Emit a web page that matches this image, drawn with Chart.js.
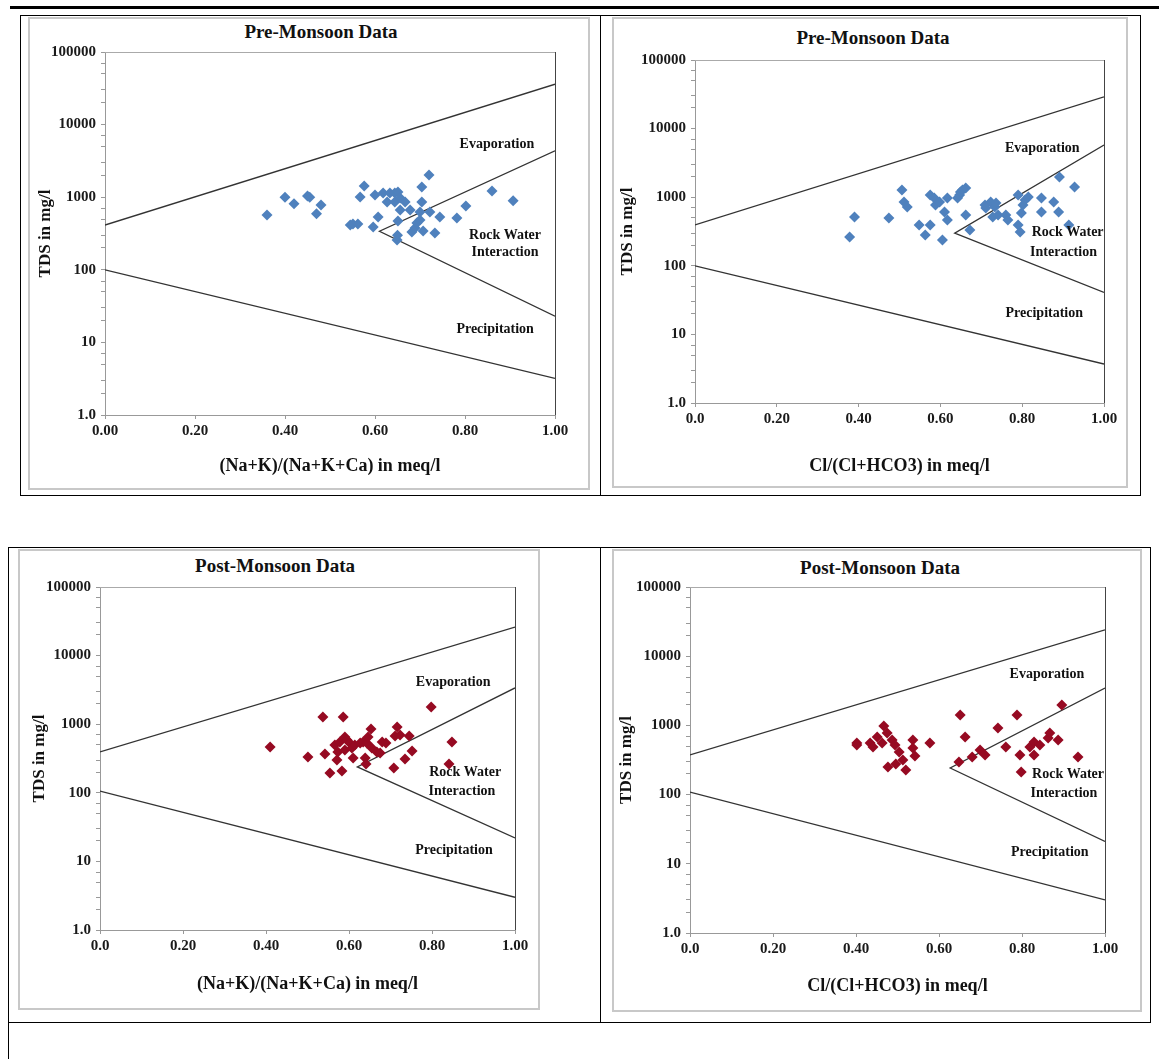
<!DOCTYPE html>
<html>
<head>
<meta charset="utf-8">
<script src="https://cdn.jsdelivr.net/npm/chart.js@4.4.0/dist/chart.umd.min.js"></script>
<style>
  body { margin: 0; background: #fff; width: 1159px; height: 1059px; position: relative; overflow: hidden; }
  .rule { position: absolute; background: #000; }
  .cell { position: absolute; border: 1px solid #000; box-sizing: border-box; }
  .panel { position: absolute; border: 2px solid #c8c8c8; box-sizing: border-box; }
  canvas { position: absolute; }
  .ptitle { position: absolute; transform: translate(-50%, -50%); white-space: nowrap;
            font: bold 19px "Liberation Serif", serif; color: #111; }
</style>
</head>
<body>
<div class="rule" style="left:10px;top:6px;width:1149px;height:3px"></div>
<div class="cell" style="left:20px;top:15px;width:1121px;height:481px"></div>
<div class="rule" style="left:600px;top:15px;width:1px;height:481px"></div>
<div class="cell" style="left:8px;top:547px;width:1143px;height:476px"></div>
<div class="rule" style="left:600px;top:547px;width:1px;height:476px"></div>
<div class="rule" style="left:8px;top:1022px;width:1px;height:37px"></div>

<script>
// ---- data ----
const xTicks = [0, 0.2, 0.4, 0.6, 0.8, 1.0];
const xTickLabelsA = ["0.00", "0.20", "0.40", "0.60", "0.80", "1.00"];
const xTickLabelsB = ["0.0", "0.20", "0.40", "0.60", "0.80", "1.00"];
const yTicks = [1, 10, 100, 1000, 10000, 100000];
const yTickLabels = ["1.0", "10", "100", "1000", "10000", "100000"];
const regionNames = ["Evaporation", "Rock Water", "Interaction", "Precipitation"];

// Pre-monsoon, (Na+K)/(Na+K+Ca)
const preNaRatio = [0.36, 0.40, 0.42, 0.45, 0.455, 0.47, 0.48, 0.545, 0.551, 0.562, 0.567, 0.576, 0.596,
  0.60, 0.607, 0.618, 0.627, 0.633, 0.644, 0.644, 0.649, 0.65, 0.651, 0.651, 0.656, 0.656, 0.667, 0.678,
  0.682, 0.689, 0.693, 0.70, 0.70, 0.704, 0.704, 0.707, 0.72, 0.722, 0.733, 0.744, 0.782, 0.802, 0.86, 0.907];
const preNaTds = [570, 1000, 810, 1040, 1000, 590, 780, 415, 427, 427, 1006, 1430, 389,
  1070, 534, 1140, 860, 1140, 1140, 860, 257, 300, 1180, 470, 975, 667, 860, 667,
  332, 377, 441, 626, 485, 1380, 860, 342, 2020, 626, 321, 534, 517, 757, 1220, 890];

// Pre-monsoon, Cl/(Cl+HCO3)
const preClRatio = [0.378, 0.39, 0.474, 0.506, 0.511, 0.519, 0.548, 0.563, 0.575, 0.575, 0.585, 0.588, 0.598,
  0.605, 0.61, 0.617, 0.617, 0.642, 0.647, 0.649, 0.654, 0.662, 0.662, 0.672, 0.709, 0.711, 0.723, 0.728,
  0.733, 0.736, 0.741, 0.76, 0.765, 0.79, 0.79, 0.795, 0.798, 0.802, 0.807, 0.815, 0.847, 0.847, 0.877,
  0.889, 0.891, 0.914, 0.928];
const preClTds = [263, 514, 498, 1273, 851, 720, 394, 281, 394, 1077, 973, 770, 851,
  238, 609, 973, 465, 973, 1077, 1191, 1273, 1362, 550, 333, 770, 696, 851, 514,
  720, 824, 550, 550, 465, 1077, 394, 311, 589, 770, 910, 1007, 973, 609, 851,
  609, 1970, 394, 1409];

// Post-monsoon, (Na+K)/(Na+K+Ca)
const postNaRatio = [0.41, 0.501, 0.537, 0.542, 0.554, 0.566, 0.571, 0.573, 0.578, 0.583, 0.586, 0.59, 0.59,
  0.595, 0.602, 0.607, 0.61, 0.614, 0.627, 0.634, 0.639, 0.641, 0.643, 0.646, 0.653, 0.655, 0.667, 0.675,
  0.68, 0.689, 0.708, 0.711, 0.716, 0.723, 0.735, 0.745, 0.752, 0.798, 0.841, 0.848];
const postNaTds = [465, 333, 1273, 368, 195, 498, 301, 394, 550, 208, 1273, 651, 421,
  589, 532, 450, 322, 498, 532, 550, 322, 263, 532, 651, 851, 450, 394, 380,
  550, 532, 230, 673, 910, 696, 311, 673, 407, 1780, 263, 550];

// Post-monsoon, Cl/(Cl+HCO3)
const postClRatio = [0.402, 0.402, 0.434, 0.441, 0.451, 0.463, 0.467, 0.475, 0.477, 0.487, 0.494, 0.496, 0.504,
  0.513, 0.52, 0.537, 0.537, 0.542, 0.578, 0.648, 0.651, 0.663, 0.68, 0.699, 0.711, 0.742, 0.761, 0.788,
  0.795, 0.798, 0.819, 0.829, 0.829, 0.843, 0.863, 0.867, 0.887, 0.896, 0.935];
const postClTds = [557, 521, 557, 488, 679, 557, 980, 776, 250, 615, 521, 277, 413,
  316, 227, 615, 471, 361, 557, 296, 1413, 679, 349, 441, 374, 917, 488, 1413,
  374, 212, 488, 575, 374, 521, 657, 776, 615, 1972, 349];

// Gibbs boundary lines: [x, TDS] end points
const preNaUpper = [[0, 414], [1, 36000]];
const preNaLower = [[0, 100], [1, 3.2]];
const preNaWedge = [[1, 4350], [0.61, 340], [1, 23]];
const preClUpper = [[0, 394], [1, 29000]];
const preClLower = [[0, 100], [1, 3.7]];
const preClWedge = [[1, 5750], [0.635, 300], [1, 41]];
const postNaUpper = [[0, 394], [1, 26000]];
const postNaLower = [[0, 106], [1, 3.0]];
const postNaWedge = [[1, 3380], [0.62, 238], [1, 22]];
const postClUpper = [[0, 375], [1, 24000]];
const postClLower = [[0, 109], [1, 3.0]];
const postClWedge = [[1, 3470], [0.627, 242], [1, 21]];

// where the region names sit, in data units
const preNaLabelAt = [[0.871, 5400], [0.889, 302], [0.889, 176], [0.867, 15.3]];
const preClLabelAt = [[0.849, 5210], [0.911, 311], [0.901, 159], [0.854, 20.5]];
const postNaLabelAt = [[0.851, 4120], [0.88, 201], [0.872, 106], [0.853, 14.7]];
const postClLabelAt = [[0.86, 5530], [0.911, 199], [0.901, 105], [0.867, 14.8]];

const BLUE = "#4f81bd";
const RED = "#960a22";
const SERIF = '"Liberation Serif", "Times New Roman", serif';

// minor tick marks on the log axis
const yMinor = [];
[1, 10, 100, 1000, 10000].forEach(d => [2, 3, 5, 7].forEach(m => yMinor.push(d * m)));
const yAllTicks = yTicks.concat(yMinor).sort((a, b) => a - b);

/* draws the region names plus the top and right edges of the plot box */
const regionText = {
  id: "regionText",
  afterDatasetsDraw(chart, args, opts) {
    const { ctx, chartArea: a, scales: { x, y } } = chart;
    ctx.save();
    ctx.strokeStyle = "#aaa";
    ctx.lineWidth = 1;
    ctx.beginPath();
    ctx.moveTo(a.left, a.top + 0.5);
    ctx.lineTo(a.right, a.top + 0.5);
    ctx.stroke();
    ctx.strokeStyle = "#444";
    ctx.beginPath();
    ctx.moveTo(a.right + 0.5, a.top);
    ctx.lineTo(a.right + 0.5, a.bottom);
    ctx.stroke();
    ctx.font = "bold 14px " + SERIF;
    ctx.fillStyle = "#111";
    ctx.textAlign = "center";
    ctx.textBaseline = "middle";
    opts.at.forEach((p, i) => {
      ctx.fillText(regionNames[i], x.getPixelForValue(p[0]), y.getPixelForValue(p[1]));
    });
    ctx.restore();
  },
};

function toPoints(pairs) {
  return pairs.map(p => ({ x: p[0], y: p[1] }));
}

function lineSet(pairs) {
  return {
    data: toPoints(pairs),
    showLine: true,
    pointRadius: 0,
    borderColor: "#333",
    borderWidth: 1.3,
    fill: false,
  };
}

function makePanel(p) {
  const [left, top, w, h] = p.box;
  let frame = document.createElement("div");
  frame.className = "panel";
  Object.assign(frame.style, { left: left + "px", top: top + "px", width: w + "px", height: h + "px" });
  document.body.appendChild(frame);

  let head = document.createElement("div");
  head.className = "ptitle";
  head.textContent = p.title;
  head.style.left = p.titleAt[0] + "px";
  head.style.top = p.titleAt[1] + "px";
  document.body.appendChild(head);

  let canvas = document.createElement("canvas");
  canvas.width = w;
  canvas.height = h;
  canvas.style.left = left + "px";
  canvas.style.top = top + "px";
  document.body.appendChild(canvas);

  const tickFont = { family: SERIF, size: 15, weight: "bold" };
  let config = {
    type: "scatter",
    data: {
      datasets: [
        {
          data: p.ratio.map((v, i) => ({ x: v, y: p.tds[i] })),
          pointStyle: "rectRot",
          pointRadius: 5.5,
          backgroundColor: p.color,
          borderColor: p.color,
          borderWidth: 0,
        },
        lineSet(p.upper),
        lineSet(p.lower),
        lineSet(p.wedge),
      ],
    },
    options: {
      responsive: false,
      animation: false,
      devicePixelRatio: 1,
      layout: { padding: { top: p.padTop, right: p.padRight, bottom: 0, left: 0 } },
      plugins: {
        legend: { display: false },
        tooltip: { enabled: false },
        regionText: { at: p.labelAt },
      },
      scales: {
        x: {
          type: "linear",
          min: 0,
          max: 1,
          afterBuildTicks: s => { s.ticks = xTicks.map(v => ({ value: v })); },
          afterFit: s => { s.height = p.xH; s.paddingLeft = 0; s.paddingRight = 0; },
          ticks: {
            autoSkip: false,
            maxRotation: 0,
            padding: 3,
            color: "#1a1a1a",
            font: tickFont,
            callback: (v, i) => p.xLabels[i],
          },
          grid: { drawOnChartArea: false, drawTicks: true, tickLength: 4, color: "#999" },
          border: { color: "#999" },
          title: {
            display: true,
            text: p.xTitle,
            color: "#111",
            font: { family: SERIF, size: 18, weight: "bold" },
            padding: { top: 0, bottom: p.xTitlePad },
          },
        },
        y: {
          type: "logarithmic",
          min: 1,
          max: 100000,
          afterBuildTicks: s => { s.ticks = yAllTicks.map(v => ({ value: v })); },
          afterFit: s => { s.width = p.yW; s.paddingTop = 0; s.paddingBottom = 0; },
          ticks: {
            autoSkip: false,
            padding: 5,
            color: "#1a1a1a",
            font: tickFont,
            callback: v => {
              const k = yTicks.indexOf(v);
              return k < 0 ? "" : yTickLabels[k];
            },
          },
          grid: { drawOnChartArea: false, drawTicks: true, tickLength: 4, color: "#999" },
          border: { color: "#999" },
          title: {
            display: true,
            text: "TDS in mg/l",
            color: "#111",
            font: { family: SERIF, size: 17, weight: "bold" },
            padding: { top: p.yTitlePad, bottom: 0 },
          },
        },
      },
    },
    plugins: [regionText],
  };
  new Chart(canvas, config);
}

makePanel({
  box: [28, 17, 562, 473], padTop: 35, padRight: 35, yW: 77, xH: 75, yTitlePad: 7.8, xTitlePad: 13.2,
  title: "Pre-Monsoon Data", titleAt: [321, 32], xTitle: "(Na+K)/(Na+K+Ca) in meq/l", xLabels: xTickLabelsA,
  ratio: preNaRatio, tds: preNaTds, color: BLUE,
  upper: preNaUpper, lower: preNaLower, wedge: preNaWedge, labelAt: preNaLabelAt,
});
makePanel({
  box: [612, 17, 516, 471], padTop: 43, padRight: 24, yW: 83, xH: 85, yTitlePad: 5.8, xTitlePad: 11.2,
  title: "Pre-Monsoon Data", titleAt: [873, 38], xTitle: "Cl/(Cl+HCO3) in meq/l", xLabels: xTickLabelsB,
  ratio: preClRatio, tds: preClTds, color: BLUE,
  upper: preClUpper, lower: preClLower, wedge: preClWedge, labelAt: preClLabelAt,
});
makePanel({
  box: [18, 549, 522, 461], padTop: 38, padRight: 25, yW: 82, xH: 80, yTitlePad: 11.8, xTitlePad: 15.2,
  title: "Post-Monsoon Data", titleAt: [275, 566], xTitle: "(Na+K)/(Na+K+Ca) in meq/l", xLabels: xTickLabelsB,
  ratio: postNaRatio, tds: postNaTds, color: RED,
  upper: postNaUpper, lower: postNaLower, wedge: postNaWedge, labelAt: postNaLabelAt,
});
makePanel({
  box: [612, 549, 530, 463], padTop: 38, padRight: 37, yW: 78, xH: 79, yTitlePad: 4.8, xTitlePad: 15.2,
  title: "Post-Monsoon Data", titleAt: [880, 568], xTitle: "Cl/(Cl+HCO3) in meq/l", xLabels: xTickLabelsB,
  ratio: postClRatio, tds: postClTds, color: RED,
  upper: postClUpper, lower: postClLower, wedge: postClWedge, labelAt: postClLabelAt,
});
</script>
</body>
</html>
